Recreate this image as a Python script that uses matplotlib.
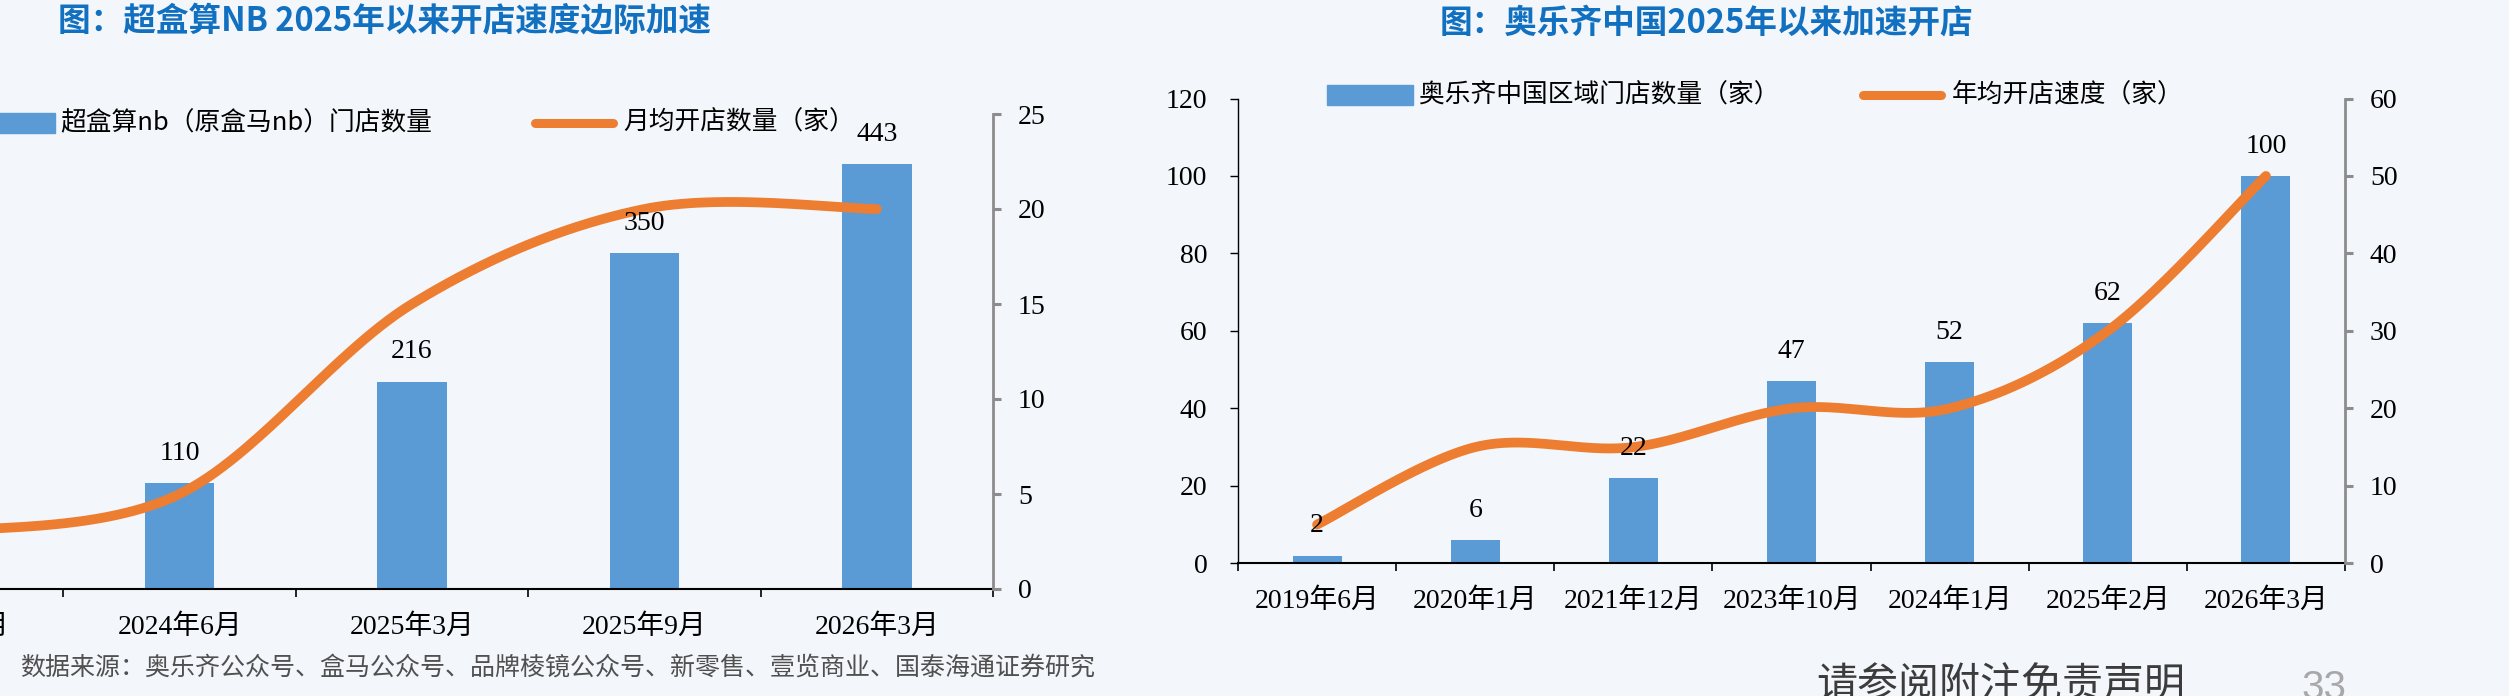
import numpy as np
import matplotlib
matplotlib.use('Agg')
import matplotlib.pyplot as plt
from matplotlib.patches import Rectangle
from matplotlib.lines import Line2D

# ---------------- data ----------------
hema_categories = ['2023年9月', '2024年6月', '2025年3月', '2025年9月', '2026年3月']
hema_stores = [np.nan, 110, 216, 350, 443]          # first bar lies outside the visible crop
hema_monthly_open = [3, 5, 15, 20, 20]

aldi_categories = ['2019年6月', '2020年1月', '2021年12月', '2023年10月', '2024年1月', '2025年2月', '2026年3月']
aldi_stores = [2, 6, 22, 47, 52, 62, 100]
aldi_yearly_open = [5, 15, 15, 20, 20, 30, 50]

left_title = '图：超盒算NB 2025年以来开店速度边际加速'
right_title = '图：奥乐齐中国2025年以来加速开店'
left_legend = ['超盒算nb（原盒马nb）门店数量', '月均开店数量（家）']
right_legend = ['奥乐齐中国区域门店数量（家）', '年均开店速度（家）']
source_text = '数据来源：奥乐齐公众号、盒马公众号、品牌棱镜公众号、新零售、壹览商业、国泰海通证券研究'
disclaimer = '请参阅附注免责声明'
page_no = '33'

# ---------------- style ----------------
W, H = 2509, 696
BLUE = '#5B9BD5'
ORANGE = '#ED7D31'
TITLE_BLUE = '#1170C0'
GRAY_AX = '#8C8C8C'
SERIF = ['Liberation Serif', 'Noto Sans CJK SC']
CJK = ['Noto Sans CJK SC', 'DejaVu Sans']
plt.rcParams['font.family'] = SERIF

fig = plt.figure(figsize=(W / 100, H / 100), dpi=100)
fig.patch.set_facecolor('#F3F6FA')


def fx(x):
    return x / W


def fy(y):
    return 1 - y / H


def smooth(xs, ys, n=60):
    pts = np.column_stack([xs, ys]).astype(float)
    P = np.vstack([pts[0], pts, pts[-1]])
    out = []
    for i in range(1, len(P) - 2):
        p0, p1, p2, p3 = P[i - 1], P[i], P[i + 1], P[i + 2]
        c1 = p1 + (p2 - p0) / 6
        c2 = p2 - (p3 - p1) / 6
        t = np.linspace(0, 1, n)[:, None]
        seg = (1 - t) ** 3 * p1 + 3 * (1 - t) ** 2 * t * c1 + 3 * (1 - t) * t ** 2 * c2 + t ** 3 * p2
        out.append(seg if i == 1 else seg[1:])
    return np.vstack(out)


def combo(rect, cats, bars, line, bar_max, line_max, line_ticks, left_axis, bar_w):
    ax = fig.add_axes(rect)
    ax.patch.set_alpha(0)
    n = len(cats)
    x = np.arange(n)
    bx = [i for i in x if not np.isnan(bars[i])]
    bv = [bars[i] for i in bx]
    ax.bar(bx, bv, width=bar_w, color=BLUE, zorder=2)
    ax.set_xlim(-0.5, n - 0.5)
    ax.set_ylim(0, bar_max)
    for s in ['top', 'right']:
        ax.spines[s].set_visible(False)
    ax.spines['bottom'].set_color('black')
    ax.spines['bottom'].set_linewidth(1.5)
    ax.set_xticks(np.arange(-0.5, n, 1))
    ax.set_xticklabels([''] * (n + 1))
    ax.set_xticks(x, minor=True)
    ax.set_xticklabels(cats, minor=True)
    ax.tick_params(axis='x', which='major', direction='out', length=6, width=1.2, color='black')
    ax.tick_params(axis='x', which='minor', length=0, pad=18, labelsize=20)
    if left_axis is None:
        ax.spines['left'].set_visible(False)
        ax.set_yticks([])
    else:
        ax.spines['left'].set_color('black')
        ax.spines['left'].set_linewidth(1.0)
        ax.set_yticks(left_axis)
        ax.tick_params(axis='y', direction='out', length=6, width=1.0, color='black', pad=16, labelsize=20)

    ax2 = ax.twinx()
    for s in ['top', 'left', 'bottom']:
        ax2.spines[s].set_visible(False)
    ax2.spines['right'].set_color(GRAY_AX)
    ax2.spines['right'].set_linewidth(2)
    ax2.set_ylim(0, line_max)
    ax2.set_yticks(line_ticks)
    ax2.tick_params(axis='y', direction='out', length=6, width=2.2, color=GRAY_AX, pad=12, labelsize=20)
    sm = smooth(x, line)
    ax2.plot(sm[:, 0], sm[:, 1], color=ORANGE, lw=7, solid_capstyle='round', zorder=3)
    for i, v in zip(bx, bv):
        ax2.annotate(f'{v:g}', xy=(i, v), xycoords=ax.transData, xytext=(0, 21.5),
                     textcoords='offset points', ha='center', va='center', fontsize=20,
                     family=SERIF, zorder=5, annotation_clip=False)
    return ax, ax2


# left chart (cropped on the left side like the reference)
combo([fx(-169), 1 - 589 / H, 1162 / W, 475 / H], hema_categories, hema_stores, hema_monthly_open,
      495, 25, np.arange(0, 26, 5), None, 0.3)

# right chart
combo([fx(1238), 1 - 563.3 / H, 1107 / W, 464.8 / H], aldi_categories, aldi_stores, aldi_yearly_open,
      120, 60, np.arange(0, 61, 10), np.arange(0, 121, 20), 0.31)

# titles
fig.text(fx(58), fy(22), left_title, ha='left', va='center', fontsize=23.5, fontweight='bold',
         color=TITLE_BLUE, family=CJK)
fig.text(fx(1706), fy(23), right_title, ha='center', va='center', fontsize=23.5, fontweight='bold',
         color=TITLE_BLUE, family=CJK)

# legends
fig.add_artist(Rectangle((fx(-31), fy(133)), 86 / W, 20 / H, transform=fig.transFigure, color=BLUE))
fig.text(fx(60), fy(123), left_legend[0], ha='left', va='center', fontsize=18.5, family=CJK)
fig.add_artist(Line2D([fx(535), fx(613)], [fy(123)] * 2, transform=fig.transFigure, color=ORANGE,
                      lw=6.5, solid_capstyle='round'))
fig.text(fx(623), fy(123), left_legend[1], ha='left', va='center', fontsize=18.5, family=CJK)

fig.add_artist(Rectangle((fx(1327), fy(105)), 86 / W, 20 / H, transform=fig.transFigure, color=BLUE))
fig.text(fx(1419), fy(96), right_legend[0], ha='left', va='center', fontsize=18.5, family=CJK)
fig.add_artist(Line2D([fx(1863), fx(1941)], [fy(95)] * 2, transform=fig.transFigure, color=ORANGE,
                      lw=6.5, solid_capstyle='round'))
fig.text(fx(1952), fy(95), right_legend[1], ha='left', va='center', fontsize=18.5, family=CJK)

# footer
fig.text(fx(20), fy(668), source_text, ha='left', va='center', fontsize=18, color='#505050', family=CJK)
fig.text(fx(1816), fy(686), disclaimer, ha='left', va='center', fontsize=29.5, color='#3C3C3C', family=CJK)
fig.text(fx(2301), fy(688), page_no, ha='left', va='center', fontsize=29, color='#A8A8A8',
         family=['Liberation Sans'])

fig.savefig('out.png', dpi=100, facecolor=fig.get_facecolor())
